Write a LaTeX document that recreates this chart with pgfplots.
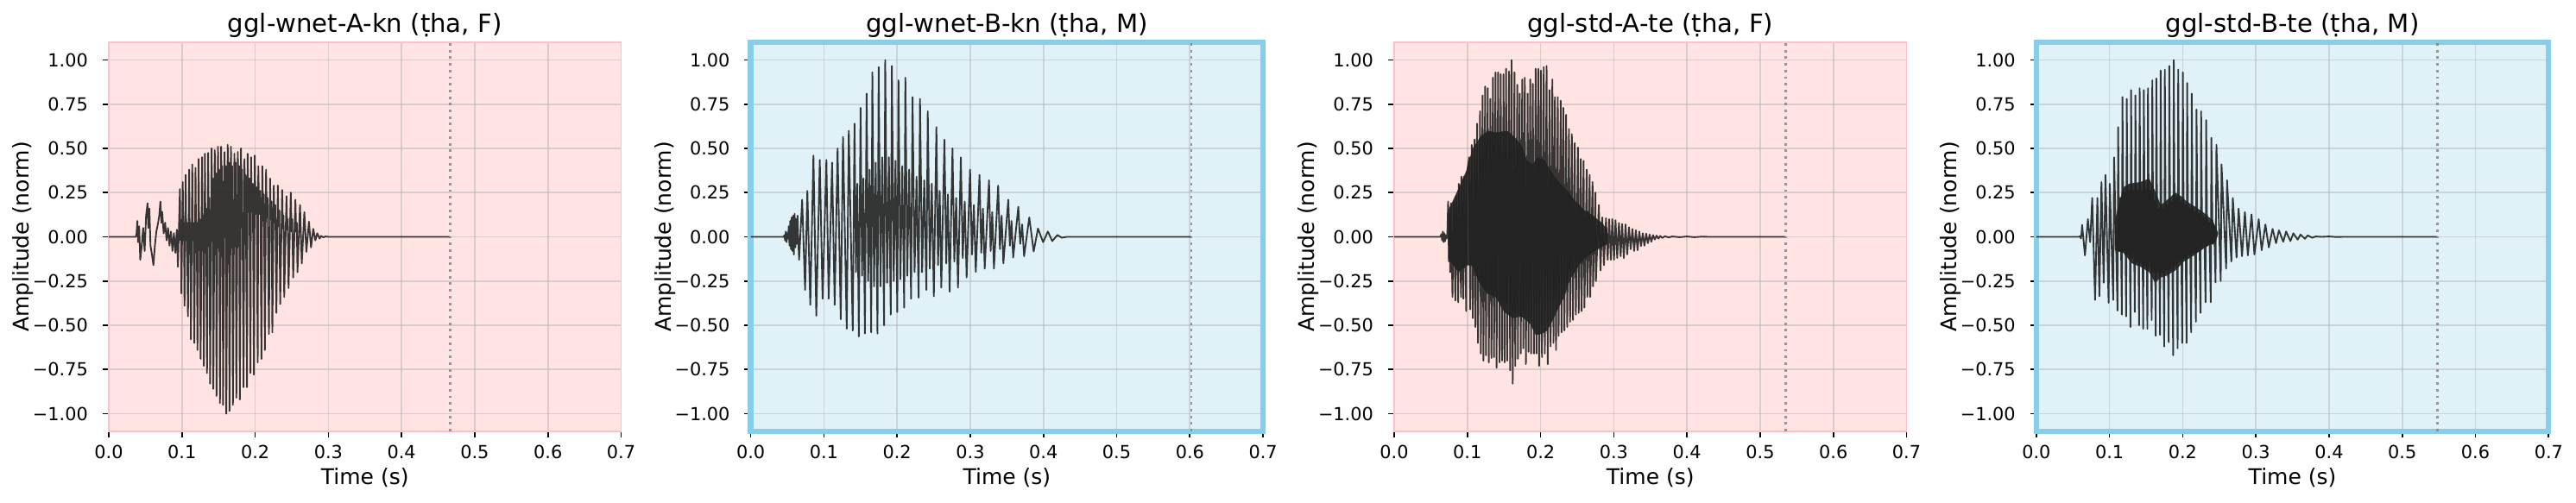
\documentclass[border=0pt]{standalone}
\usepackage{pgfplots}
\pgfplotsset{compat=1.18}
\usepackage{fontspec}
\setmainfont{DejaVu Sans}
\definecolor{pinkbg}{RGB}{255,228,226}
\definecolor{pinkedge}{RGB}{255,192,203}
\definecolor{bluebg}{RGB}{224,241,248}
\definecolor{blueedge}{RGB}{135,206,235}
\definecolor{wave}{RGB}{34,34,34}
\definecolor{gridc}{RGB}{176,176,176}
\definecolor{vlc}{RGB}{128,128,128}
\pgfplotsset{
  wavebase/.style={
    scale only axis, width=284.88bp, height=216.48bp,
    anchor=south west,
    xmin=0, xmax=0.7, ymin=-1.1, ymax=1.1,
    xtick={0,0.1,0.2,0.3,0.4,0.5,0.6,0.7},
    xticklabels={},
    ytick={-1,-0.75,-0.5,-0.25,0,0.25,0.5,0.75,1},
    yticklabels={−1.00,−0.75,−0.50,−0.25,0.00,0.25,0.50,0.75,1.00},
    tick pos=left, tick align=outside,
    major tick length=3.5bp,
    tick style={black, line width=0.8bp},
    tick label style={font=\fontsize{10bp}{12bp}\selectfont, black},
    yticklabel style={anchor=east, inner sep=0pt, xshift=-7.9bp},
    grid=major,
    major grid style={draw=gridc, draw opacity=0.45, line width=0.8bp},
  },
  pinkax/.style={wavebase, axis background/.style={fill=pinkbg}, axis line style={draw=pinkedge, line width=0.8bp}},
  blueax/.style={wavebase, axis background/.style={fill=bluebg}, axis line style={draw=blueedge, line width=3bp}},
  wv/.style={draw=wave, draw opacity=0.9, line width=0.9bp, line join=round},
  core/.style={draw=none, fill=wave, fill opacity=0.9},
  vl/.style={draw=vlc, draw opacity=0.8, line width=1.4bp, dash pattern=on 1.4bp off 2.3bp},
}
\tikzset{
  tk/.style={anchor=base, inner sep=0pt, font=\fontsize{10bp}{12bp}\selectfont},
  lb/.style={anchor=base, inner sep=0pt, font=\fontsize{12bp}{14bp}\selectfont},
  tt/.style={anchor=base, inner sep=0pt, font=\fontsize{14bp}{16bp}\selectfont},
}
\newcommand\decor[2]{%
  \node[tt] at ([yshift=5.7bp]#1.north) {#2};
  \node[lb] at ([yshift=-29.6bp]#1.south) {Time (s)};
  \node[lb, rotate=90] at ([xshift=-44.2bp]#1.west) {Amplitude (norm)};
  \foreach \k/\l in {0/0.0,1/0.1,2/0.2,3/0.3,4/0.4,5/0.5,6/0.6,7/0.7}
    \node[tk] at ([xshift=\k*40.697bp, yshift=-15.1bp]#1.south west) {\l};
}
\begin{document}
\begin{tikzpicture}
\useasboundingbox (0,0) rectangle (1432.32bp,279.36bp);
% ---------------- Panel 1 ----------------
\begin{axis}[pinkax, name=p1, at={(60.48bp,39.36bp)}]
\addplot[wv] coordinates {
(0,0) (0.037,0) (0.038,0.02) (0.039,0.09) (0.040,-0.03) (0.0415,0.06) (0.043,-0.13) (0.045,-0.05)
(0.047,0.05) (0.049,-0.08) (0.051,0.12) (0.053,0.19) (0.054,0.05) (0.0555,0.16) (0.057,-0.05)
(0.059,-0.10) (0.061,-0.16) (0.063,-0.05) (0.065,0.03) (0.067,0.07) (0.069,0.12) (0.0705,0.20)
(0.072,0.08) (0.073,0.14) (0.075,0.02) (0.077,0.08) (0.079,-0.02) (0.081,0.05) (0.083,-0.05)
(0.085,0.03) (0.087,-0.08) (0.089,0.02) (0.091,-0.09) (0.093,0.04)
(0.0945,-0.17) (0.0972,0.27) (0.0980,-0.02) (0.0988,0.08)
(0.0992,-0.32) (0.1011,0.31) (0.1019,-0.02) (0.1027,0.08)
(0.1035,-0.39) (0.1051,0.35) (0.1059,-0.02) (0.1067,0.08)
(0.1082,-0.45) (0.1098,0.38) (0.1106,-0.02) (0.1114,0.08)
(0.1122,-0.58) (0.1141,0.41) (0.1149,-0.02) (0.1157,0.08)
(0.1169,-0.60) (0.1185,0.39) (0.1193,-0.02) (0.1201,0.08)
(0.1212,-0.64) (0.1228,0.44) (0.1236,-0.02) (0.1244,0.10)
(0.1255,-0.69) (0.1275,0.45) (0.1283,-0.02) (0.1291,0.12)
(0.1299,-0.73) (0.1314,0.47) (0.1322,0.00) (0.1330,0.16)
(0.1342,-0.77) (0.1358,0.475) (0.1366,0.05) (0.1374,0.22)
(0.1385,-0.83) (0.1405,0.50) (0.1413,0.15) (0.1421,0.33)
(0.1429,-0.86) (0.1448,0.49) (0.1456,0.17) (0.1464,0.36)
(0.1472,-0.90) (0.1492,0.51) (0.1500,0.17) (0.1508,0.38)
(0.1519,-0.94) (0.1535,0.51) (0.1543,0.19) (0.1551,0.40)
(0.1562,-0.95) (0.1582,0.48) (0.1590,0.17) (0.1598,0.40)
(0.1606,-1.00) (0.1625,0.52) (0.1633,0.19) (0.1641,0.42)
(0.1649,-0.985) (0.1669,0.51) (0.1677,0.17) (0.1685,0.40)
(0.1696,-0.95) (0.1716,0.47) (0.1724,0.19) (0.1732,0.42)
(0.1743,-0.91) (0.1763,0.48) (0.1771,0.17) (0.1779,0.40)
(0.1791,-0.92) (0.1806,0.50) (0.1814,0.17) (0.1822,0.38)
(0.1842,-0.85) (0.1854,0.44) (0.1862,0.14) (0.1870,0.35)
(0.1889,-0.85) (0.1897,0.47) (0.1907,0.14) (0.1920,0.33)
(0.1936,-0.77) (0.1944,0.45) (0.1955,0.14) (0.1968,0.30)
(0.1983,-0.78) (0.1995,0.46) (0.2006,0.13) (0.2020,0.28)
(0.2035,-0.71) (0.2043,0.40) (0.2055,0.13) (0.2070,0.26)
(0.2086,-0.69) (0.2098,0.40) (0.2108,0.12) (0.2120,0.24)
(0.2133,-0.64) (0.2149,0.38) (0.2158,0.11) (0.2170,0.22)
(0.2188,-0.55) (0.2204,0.33) (0.2213,0.10) (0.2224,0.20)
(0.2235,-0.54) (0.2255,0.29) (0.2263,0.08) (0.2275,0.18)
(0.2290,-0.43) (0.2310,0.29) (0.2318,0.06) (0.2330,0.15)
(0.2342,-0.38) (0.2369,0.265) (0.2378,0.05) (0.2388,0.12)
(0.2397,-0.34) (0.2428,0.23) (0.2437,0.04) (0.2446,0.10)
(0.2456,-0.29) (0.2487,0.25) (0.2497,0.03) (0.2507,0.10)
(0.2519,-0.23) (0.2550,0.21) (0.2560,0.03) (0.2569,0.08)
(0.2578,-0.20) (0.2613,0.18) (0.2637,-0.15) (0.2672,0.14)
(0.2700,-0.085) (0.2735,0.086) (0.2763,-0.06) (0.2794,0.045)
(0.2822,-0.02) (0.2849,0.02) (0.2881,-0.01) (0.2900,0.005)
(0.293,-0.003) (0.296,0.002) (0.300,0) (0.466,0)
};
\addplot[vl] coordinates {(0.466,-1.1) (0.466,1.1)};
\end{axis}
\decor{p1}{ggl-wnet-A-kn (ṭha, F)}
% ---------------- Panel 2 ----------------
\begin{axis}[blueax, name=p2, at={(417.41bp,39.36bp)}]
\addplot[wv] coordinates {
(0,0) (0.045,0) (0.046,0.01) (0.047,-0.02) (0.048,0.03) (0.049,-0.03) (0.050,0.02) (0.051,-0.01)
(0.052,0.06) (0.053,-0.05) (0.054,0.09) (0.055,-0.07) (0.056,0.11) (0.057,-0.08) (0.058,0.12)
(0.059,-0.10) (0.060,0.13) (0.061,-0.06) (0.062,0.10) (0.063,-0.04) (0.064,0.12) (0.065,-0.02)
(0.0661,-0.13) (0.0703,0.21) (0.0743,-0.30) (0.0774,0.26) (0.0814,-0.385) (0.0857,0.46)
(0.0896,-0.446) (0.0944,0.435) (0.0982,-0.35) (0.1034,0.435) (0.1065,-0.35) (0.1112,0.42)
(0.1147,-0.385) (0.1187,0.50) (0.1230,-0.466) (0.1261,0.565) (0.1312,-0.52) (0.1340,0.60)
(0.1394,-0.53) (0.1418,0.64) (0.1438,-0.20) (0.1457,0.30)
(0.1477,-0.563) (0.1501,0.73) (0.1521,-0.22) (0.1540,0.33)
(0.1560,-0.547) (0.1584,0.81) (0.1605,-0.25) (0.1625,0.38)
(0.1646,-0.54) (0.1662,0.93) (0.1685,-0.28) (0.1708,0.42)
(0.1732,-0.547) (0.1748,0.96) (0.1773,-0.28) (0.1797,0.45)
(0.1822,-0.50) (0.1838,1.00) (0.1863,-0.26) (0.1888,0.45)
(0.1913,-0.44) (0.1929,0.966) (0.1954,-0.25) (0.1978,0.43)
(0.2003,-0.425) (0.2019,0.885) (0.2045,-0.24) (0.2071,0.40)
(0.2097,-0.40) (0.2113,0.90) (0.2139,-0.22) (0.2165,0.38)
(0.2191,-0.35) (0.2211,0.79) (0.2239,-0.20) (0.2266,0.34)
(0.2294,-0.344) (0.2313,0.78) (0.2342,-0.20) (0.2371,0.32)
(0.2400,-0.30) (0.2419,0.71) (0.2447,-0.18) (0.2474,0.30)
(0.2502,-0.336) (0.2537,0.62) (0.2559,-0.16) (0.2582,0.26)
(0.2604,-0.287) (0.2647,0.55) (0.2671,-0.15) (0.2694,0.24)
(0.2718,-0.31) (0.2757,0.50) (0.2782,-0.14) (0.2807,0.22)
(0.2832,-0.287) (0.2871,0.45) (0.2897,-0.12) (0.2924,0.20)
(0.2950,-0.23) (0.2997,0.38) (0.3023,-0.10) (0.3049,0.18)
(0.3075,-0.198) (0.3126,0.35) (0.3150,-0.09) (0.3173,0.16)
(0.3197,-0.18) (0.3256,0.32) (0.3278,-0.08) (0.3300,0.14)
(0.3323,-0.18) (0.3381,0.29) (0.3405,-0.07) (0.3428,0.12)
(0.3452,-0.15) (0.3519,0.21) (0.3541,-0.05) (0.3563,0.09)
(0.3586,-0.117) (0.3656,0.17) (0.3682,-0.04) (0.3708,0.07)
(0.3735,-0.11) (0.3806,0.11) (0.3866,-0.083) (0.3925,0.047) (0.3995,-0.03) (0.406,0.03)
(0.412,-0.024) (0.419,0.01) (0.425,-0.005) (0.432,0) (0.602,0)
};
\addplot[vl] coordinates {(0.602,-1.1) (0.602,1.1)};
\end{axis}
\decor{p2}{ggl-wnet-B-kn (ṭha, M)}
% ---------------- Panel 3 ----------------
\begin{axis}[pinkax, name=p3, at={(775.2bp,39.36bp)}]
\addplot[core] coordinates {
(0.0737,0.15) (0.0796,0.20) (0.0875,0.27) (0.0992,0.38) (0.1071,0.50) (0.1188,0.57) (0.1286,0.60)
(0.1384,0.59) (0.1541,0.60) (0.1639,0.565) (0.1737,0.52) (0.1816,0.43) (0.1894,0.41) (0.1953,0.45)
(0.2051,0.435) (0.2129,0.38) (0.2247,0.31) (0.2365,0.26) (0.2482,0.20) (0.2600,0.15) (0.2718,0.12)
(0.2835,0.08) (0.2914,0.04)
(0.2914,-0.04) (0.2757,-0.076) (0.2639,-0.11) (0.2561,-0.14) (0.2482,-0.19) (0.2404,-0.24)
(0.2325,-0.34) (0.2247,-0.40) (0.2169,-0.47) (0.2090,-0.53) (0.2012,-0.55) (0.1933,-0.555)
(0.1855,-0.49) (0.1737,-0.45) (0.1620,-0.46) (0.1502,-0.425) (0.1384,-0.34) (0.1267,-0.32)
(0.1149,-0.25) (0.1071,-0.165) (0.0992,-0.16) (0.0875,-0.20) (0.0737,-0.12)
};
\addplot[wv] coordinates {
(0,0) (0.063,0) (0.0645,0.015) (0.0655,-0.02) (0.0665,0.03) (0.0675,-0.03) (0.0685,0.02)
(0.0695,-0.025) (0.0705,0.01) (0.0715,-0.01) (0.0725,0)
(0.0737,0.20) (0.0748,-0.14) (0.0756,0.12) (0.0765,-0.20) (0.0776,0.19) (0.0796,-0.34)
(0.0816,0.20) (0.0835,-0.36) (0.0847,0.23) (0.0875,-0.37) (0.0882,0.30) (0.0914,-0.34)
(0.0918,0.34) (0.0945,-0.35) (0.0953,0.34) (0.0984,-0.42) (0.0988,0.34)
(0.1024,0.45) (0.1039,-0.41) (0.1059,0.52) (0.1074,-0.46) (0.1098,0.55) (0.1109,-0.51)
(0.1133,0.64) (0.1144,-0.60) (0.1173,0.71) (0.1184,-0.66) (0.1208,0.80) (0.1219,-0.70)
(0.1243,0.85) (0.1254,-0.67) (0.1278,0.84) (0.1293,-0.71) (0.1314,0.78) (0.1329,-0.685)
(0.1349,0.90) (0.1364,-0.68) (0.1384,0.93) (0.1399,-0.74) (0.1420,0.93) (0.1439,-0.71)
(0.1455,0.92) (0.1474,-0.70) (0.1494,0.92) (0.1509,-0.71) (0.1529,0.95) (0.1544,-0.70)
(0.1569,0.935) (0.1584,-0.755) (0.1604,1.00) (0.1619,-0.83) (0.1643,0.93) (0.1654,-0.73)
(0.1682,0.86) (0.1690,-0.69) (0.1714,0.81) (0.1729,-0.66) (0.1749,0.89) (0.1764,-0.63)
(0.1784,0.90) (0.1799,-0.72) (0.1824,0.81) (0.1835,-0.65) (0.1859,0.89) (0.1870,-0.66)
(0.1894,0.865) (0.1909,-0.66) (0.1933,0.95) (0.1944,-0.66) (0.1969,0.95) (0.1980,-0.73)
(0.2004,0.94) (0.2019,-0.68) (0.2043,0.96) (0.2058,-0.66) (0.2082,0.966) (0.2097,-0.72)
(0.2122,0.83) (0.2137,-0.62) (0.2161,0.89) (0.2176,-0.60) (0.2196,0.79) (0.2211,-0.64)
(0.2235,0.79) (0.2246,-0.56) (0.2275,0.77) (0.2286,-0.54) (0.2310,0.73) (0.2325,-0.53)
(0.2349,0.69) (0.2364,-0.51) (0.2388,0.61) (0.2403,-0.48) (0.2427,0.58) (0.2442,-0.47)
(0.2467,0.53) (0.2482,-0.44) (0.2510,0.505) (0.2521,-0.43) (0.2549,0.44) (0.2560,-0.42)
(0.2588,0.43) (0.2599,-0.40) (0.2631,0.38) (0.2639,-0.34) (0.2671,0.35) (0.2678,-0.34)
(0.2710,0.31) (0.2717,-0.28) (0.2749,0.25) (0.2756,-0.25)
(0.2796,0.18) (0.2819,-0.19) (0.2843,0.11) (0.2866,-0.16) (0.2894,0.105) (0.2917,-0.13)
(0.2937,0.10) (0.2960,-0.13) (0.2980,0.10) (0.3003,-0.13) (0.3024,0.094) (0.3047,-0.12)
(0.3071,0.078) (0.3094,-0.11) (0.3114,0.073) (0.3137,-0.12) (0.3161,0.07) (0.3184,-0.10)
(0.3208,0.054) (0.3231,-0.07) (0.3255,0.045) (0.3278,-0.08) (0.3302,0.037) (0.3325,-0.076)
(0.3349,0.03) (0.3372,-0.052) (0.3396,0.02) (0.3419,-0.05) (0.3443,0.018) (0.3466,-0.036)
(0.3490,0.013) (0.3513,-0.028) (0.3537,0.01) (0.3560,-0.015) (0.3585,0.007) (0.3610,-0.01)
(0.3635,0.005) (0.3660,-0.006) (0.370,0.003) (0.375,-0.003) (0.380,0.002) (0.390,-0.002)
(0.400,0.002) (0.410,-0.002) (0.420,0.001) (0.430,0) (0.535,0)
};
\addplot[vl] coordinates {(0.535,-1.1) (0.535,1.1)};
\end{axis}
\decor{p3}{ggl-std-A-te (ṭha, F)}
% ---------------- Panel 4 ----------------
\begin{axis}[blueax, name=p4, at={(1132.22bp,39.36bp)}]
\addplot[core] coordinates {
(0.1071,0.09) (0.1189,0.28) (0.1268,0.30) (0.1425,0.31) (0.1543,0.33) (0.1622,0.26) (0.1701,0.18)
(0.1819,0.22) (0.1898,0.25) (0.1976,0.23) (0.2055,0.20) (0.2173,0.17) (0.2291,0.135) (0.2409,0.094)
(0.2488,0.02)
(0.2449,-0.03) (0.2370,-0.044) (0.2252,-0.076) (0.2134,-0.11) (0.2016,-0.14) (0.1898,-0.19)
(0.1780,-0.22) (0.1701,-0.23) (0.1622,-0.26) (0.1543,-0.20) (0.1425,-0.17) (0.1307,-0.15)
(0.1189,-0.09) (0.1071,-0.076)
};
\addplot[wv] coordinates {
(0,0) (0.058,0) (0.0600,0.004) (0.0610,-0.01) (0.0618,0.02)
(0.0626,0.067) (0.0665,-0.105) (0.0705,0.10) (0.0736,-0.03) (0.0764,0.22) (0.0803,-0.357)
(0.0835,0.22) (0.0862,-0.336) (0.0890,0.31) (0.0921,-0.26) (0.0945,0.35) (0.0988,-0.373)
(0.1004,0.30) (0.1051,-0.357) (0.1063,0.45) (0.1110,-0.417)
(0.1118,0.62) (0.1133,-0.08) (0.1150,0.22) (0.1169,-0.44)
(0.1177,0.79) (0.1192,-0.08) (0.1210,0.25) (0.1228,-0.45)
(0.1236,0.78) (0.1251,-0.10) (0.1269,0.26) (0.1287,-0.51)
(0.1295,0.83) (0.1310,-0.12) (0.1328,0.26) (0.1346,-0.425)
(0.1354,0.80) (0.1369,-0.14) (0.1387,0.26) (0.1404,-0.50)
(0.1412,0.84) (0.1427,-0.15) (0.1444,0.26) (0.1461,-0.52)
(0.1469,0.83) (0.1484,-0.16) (0.1501,0.27) (0.1518,-0.52)
(0.1526,0.84) (0.1541,-0.17) (0.1559,0.26) (0.1577,-0.47)
(0.1585,0.885) (0.1600,-0.20) (0.1616,0.20) (0.1632,-0.56)
(0.1640,0.895) (0.1655,-0.20) (0.1673,0.16) (0.1691,-0.555)
(0.1699,0.94) (0.1714,-0.20) (0.1731,0.16) (0.1748,-0.62)
(0.1756,0.945) (0.1771,-0.19) (0.1790,0.18) (0.1809,-0.596)
(0.1817,0.966) (0.1832,-0.18) (0.1851,0.20) (0.1870,-0.67)
(0.1878,1.00) (0.1893,-0.16) (0.1912,0.22) (0.1931,-0.63)
(0.1939,0.946) (0.1954,-0.14) (0.1974,0.20) (0.1994,-0.60)
(0.2002,0.93) (0.2017,-0.12) (0.2035,0.18) (0.2053,-0.60)
(0.2061,0.87) (0.2076,-0.10) (0.2096,0.16) (0.2116,-0.54)
(0.2124,0.81) (0.2139,-0.09) (0.2160,0.14) (0.2181,-0.48)
(0.2189,0.72) (0.2204,-0.08) (0.2224,0.13) (0.2244,-0.43)
(0.2252,0.71) (0.2267,-0.06) (0.2290,0.11) (0.2313,-0.37)
(0.2321,0.66) (0.2336,-0.05) (0.2360,0.08) (0.2384,-0.37)
(0.2392,0.56) (0.2410,-0.04) (0.2430,0.06) (0.2449,-0.258)
(0.2461,0.52) (0.2520,-0.25) (0.2531,0.41) (0.2594,-0.18) (0.2606,0.32) (0.2665,-0.14)
(0.2685,0.22) (0.2736,-0.117) (0.2764,0.16) (0.2811,-0.11) (0.2850,0.14) (0.2890,-0.105)
(0.2941,0.127) (0.2980,-0.10) (0.3039,0.10) (0.3079,-0.076) (0.3130,0.07) (0.3177,-0.06)
(0.3228,0.045) (0.3276,-0.036) (0.3315,0.037) (0.3374,-0.028) (0.3413,0.03) (0.3472,-0.024)
(0.3512,0.02) (0.3571,-0.016) (0.3610,0.013) (0.3669,-0.011) (0.3709,0.008) (0.3768,-0.005)
(0.382,0.002) (0.390,0) (0.400,0.002) (0.410,-0.001) (0.420,0) (0.548,0)
};
\addplot[vl] coordinates {(0.548,-1.1) (0.548,1.1)};
\end{axis}
\decor{p4}{ggl-std-B-te (ṭha, M)}
\end{tikzpicture}
\end{document}
